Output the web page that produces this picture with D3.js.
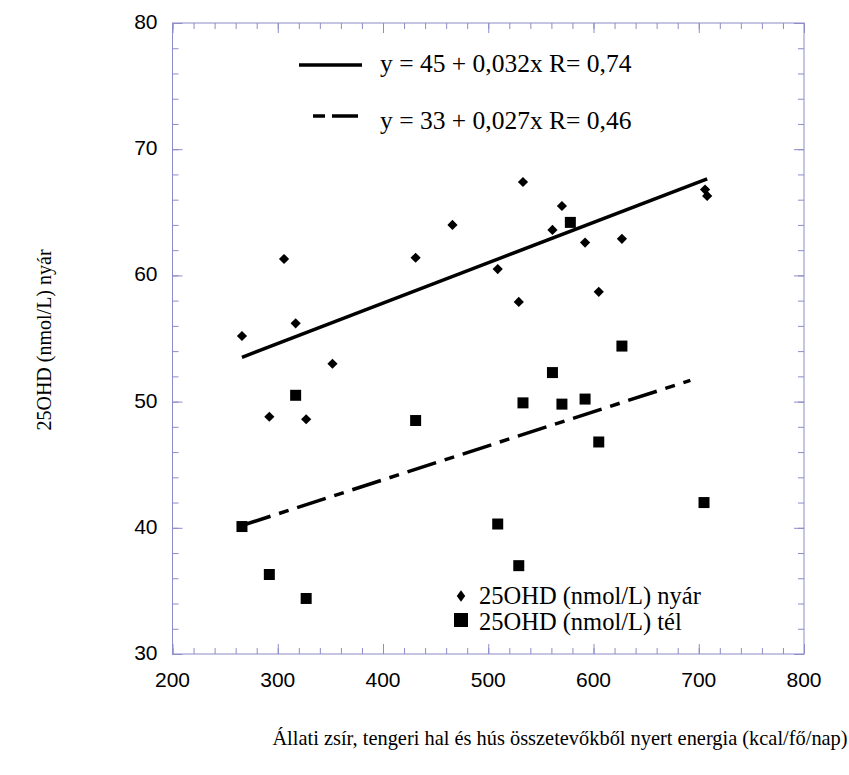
<!DOCTYPE html>
<html>
<head>
<meta charset="utf-8">
<script src="https://cdn.jsdelivr.net/npm/d3@7"></script>
<style>
  body { margin: 0; background: #fff; }
  .tick-label { font-family: "Liberation Sans", Arial, sans-serif; font-size: 21px; fill: #000; }
  .serif { font-family: "Liberation Serif", "Times New Roman", serif; fill: #000; }
</style>
</head>
<body>
<div id="chart"></div>
<script>
// summer (nyár) values - diamonds
var summerX = [266, 292, 306, 317, 327, 352, 431, 466, 509, 529, 533, 561, 570, 592, 605, 627, 706, 708];
var summerY = [55.2, 48.8, 61.3, 56.2, 48.6, 53.0, 61.4, 64.0, 60.5, 57.9, 67.4, 63.6, 65.5, 62.6, 58.7, 62.9, 66.8, 66.3];

// winter (tél) values - squares
var winterX = [266, 292, 317, 327, 431, 509, 529, 533, 561, 570, 578, 592, 605, 627, 705];
var winterY = [40.1, 36.3, 50.5, 34.4, 48.5, 40.3, 37.0, 49.9, 52.3, 49.8, 64.2, 50.2, 46.8, 54.4, 42.0];

// regression lines: intercept, slope, x range
var fitSummer = { a: 45, b: 0.032, from: 266, to: 708 };
var fitWinter = { a: 33, b: 0.027, from: 266, to: 692 };

var xTicks = [200, 300, 400, 500, 600, 700, 800];
var yTicks = [30, 40, 50, 60, 70, 80];

var eqLabels = ["y = 45 + 0,032x R= 0,74", "y = 33 + 0,027x R= 0,46"];
var legendLabels = ["25OHD (nmol/L) nyár", "25OHD (nmol/L) tél"];
var xTitle = "Állati zsír, tengeri hal és hús összetevőkből nyert energia (kcal/fő/nap)";
var yTitle = "25OHD (nmol/L) nyár";

var width = 849, height = 775;
var margin = {top: 23, right: 45, bottom: 121, left: 172.5};
var axisColor = "#8c8cc8";
var dashPattern = "30,9,10,9";

var svg = d3.select("#chart").append("svg")
  .attr("width", width)
  .attr("height", height);

var x = d3.scaleLinear().domain([200, 800]).range([margin.left, width - margin.right]);
var y = d3.scaleLinear().domain([30, 80]).range([height - margin.bottom, margin.top]);

// frame
svg.append("rect")
  .attr("x", x(200)).attr("y", y(80))
  .attr("width", x(800) - x(200)).attr("height", y(30) - y(80))
  .attr("fill", "none").attr("stroke", axisColor).attr("stroke-width", 1);

// ticks pointing inward on all four sides
var xMinor = d3.range(200, 801, 20);
var yMinor = d3.range(30, 81, 2);

function drawTicks(axis, vals, size) {
  var g = svg.append("g").attr("transform", axis.t).call(axis.a.tickValues(vals).tickSize(size).tickFormat(""));
  g.select(".domain").remove();
  g.selectAll("line").attr("stroke", axisColor);
}
drawTicks({a: d3.axisBottom(x), t: "translate(0," + y(30) + ")"}, xMinor, -6);
drawTicks({a: d3.axisBottom(x), t: "translate(0," + y(30) + ")"}, xTicks, -10);
drawTicks({a: d3.axisTop(x), t: "translate(0," + y(80) + ")"}, xMinor, -6);
drawTicks({a: d3.axisTop(x), t: "translate(0," + y(80) + ")"}, xTicks, -10);
drawTicks({a: d3.axisLeft(y), t: "translate(" + x(200) + ",0)"}, yMinor, -6);
drawTicks({a: d3.axisLeft(y), t: "translate(" + x(200) + ",0)"}, yTicks, -10);
drawTicks({a: d3.axisRight(y), t: "translate(" + x(800) + ",0)"}, yMinor, -6);
drawTicks({a: d3.axisRight(y), t: "translate(" + x(800) + ",0)"}, yTicks, -10);

// tick labels
svg.selectAll(".xl").data(xTicks).enter().append("text")
  .attr("class", "tick-label")
  .attr("x", function(d){ return x(d); })
  .attr("y", y(30) + 33)
  .attr("text-anchor", "middle")
  .text(function(d){ return d; });

svg.selectAll(".yl").data(yTicks).enter().append("text")
  .attr("class", "tick-label")
  .attr("x", x(200) - 15)
  .attr("y", function(d){ return y(d) + 6; })
  .attr("text-anchor", "end")
  .text(function(d){ return d; });

// regression lines
var line = d3.line().x(function(d){ return x(d[0]); }).y(function(d){ return y(d[1]); });
function fitPts(f) { return [[f.from, f.a + f.b * f.from], [f.to, f.a + f.b * f.to]]; }

svg.append("path").attr("d", line(fitPts(fitSummer)))
  .attr("fill", "none").attr("stroke", "#000").attr("stroke-width", 3.5);
svg.append("path").attr("d", line(fitPts(fitWinter)))
  .attr("fill", "none").attr("stroke", "#000").attr("stroke-width", 3.5)
  .attr("stroke-dasharray", dashPattern);

// points: diamonds are squares turned 45 degrees
var diamond = d3.symbol().type(d3.symbolSquare).size(52);
var square = d3.symbol().type(d3.symbolSquare).size(121);

svg.selectAll(".dia").data(summerX).enter().append("path")
  .attr("d", diamond)
  .attr("transform", function(d, i){ return "translate(" + x(d) + "," + y(summerY[i]) + ") rotate(45)"; })
  .attr("fill", "#000");

svg.selectAll(".sq").data(winterX).enter().append("path")
  .attr("d", square)
  .attr("transform", function(d, i){ return "translate(" + x(d) + "," + y(winterY[i]) + ")"; })
  .attr("fill", "#000");

// equation legend (top)
svg.append("line").attr("x1", 299).attr("x2", 362).attr("y1", 65).attr("y2", 65)
  .attr("stroke", "#000").attr("stroke-width", 3.5);
svg.append("line").attr("x1", 313).attr("x2", 358).attr("y1", 116).attr("y2", 116)
  .attr("stroke", "#000").attr("stroke-width", 3.5).attr("stroke-dasharray", "12,7,30");
svg.selectAll(".eq").data(eqLabels).enter().append("text")
  .attr("class", "serif")
  .attr("x", 380)
  .attr("y", function(d, i){ return 72 + i * 57; })
  .style("font-size", "25.5px")
  .text(function(d){ return d; });

// series legend (bottom)
svg.append("path").attr("d", d3.symbol().type(d3.symbolSquare).size(50))
  .attr("transform", "translate(461,596) scale(0.85,1.15) rotate(45)").attr("fill", "#000");
svg.append("rect").attr("x", 454).attr("y", 613).attr("width", 14).attr("height", 14).attr("fill", "#000");
svg.selectAll(".lg").data(legendLabels).enter().append("text")
  .attr("class", "serif")
  .attr("x", 479)
  .attr("y", function(d, i){ return 604 + i * 26; })
  .style("font-size", "24.5px")
  .text(function(d){ return d; });

// axis titles
svg.append("text").attr("class", "serif")
  .attr("x", 560).attr("y", 745)
  .attr("text-anchor", "middle")
  .style("font-size", "20.4px")
  .text(xTitle);

svg.append("text").attr("class", "serif")
  .attr("transform", "translate(51,340) rotate(-90)")
  .attr("text-anchor", "middle")
  .style("font-size", "20px")
  .text(yTitle);
</script>
</body>
</html>
